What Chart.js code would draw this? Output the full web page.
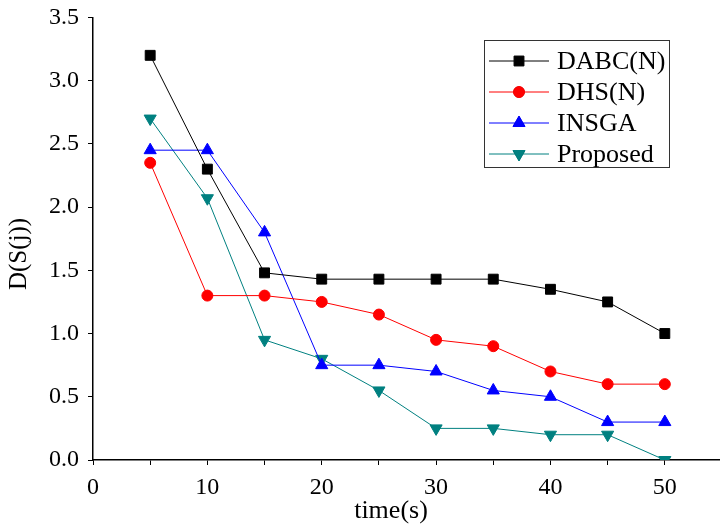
<!DOCTYPE html>
<html>
<head>
<meta charset="utf-8">
<script src="https://cdn.jsdelivr.net/npm/chart.js@4/dist/chart.umd.min.js"></script>
<style>
  html, body { margin: 0; padding: 0; background: #fff; overflow: hidden; }
  #wrap { width: 720px; height: 524px; overflow: hidden; }
  #myChart { display: block; margin-top: -6px; }
</style>
</head>
<body>
<div id="wrap"><canvas id="myChart" width="730" height="530"></canvas></div>
<script>
const times = [5, 10, 15, 20, 25, 30, 35, 40, 45, 50];
const dabc = [3.2, 2.3, 1.48, 1.43, 1.43, 1.43, 1.43, 1.35, 1.25, 1.0];
const dhs = [2.35, 1.3, 1.3, 1.25, 1.15, 0.95, 0.9, 0.7, 0.6, 0.6];
const insga = [2.45, 2.45, 1.8, 0.75, 0.75, 0.7, 0.55, 0.5, 0.3, 0.3];
const proposed = [2.7, 2.07, 0.95, 0.8, 0.55, 0.25, 0.25, 0.2, 0.2, 0.0];
const seriesNames = ['DABC(N)', 'DHS(N)', 'INSGA', 'Proposed'];
const xTitle = 'time(s)';
const yTitle = 'D(S(j))';

const font = 'Liberation Serif, Times New Roman, serif';
const shift = 6; // canvas is pulled up by this much

function pts(values) {
    return times.map((t, i) => ({ x: t, y: values[i] }));
}

function makeSet(label, values, color, style, radius, rotation) {
    return {
        label: label,
        data: pts(values),
        borderColor: color,
        backgroundColor: color,
        borderWidth: 1,
        pointStyle: style,
        pointRadius: radius,
        pointRotation: rotation || 0,
        pointBorderWidth: 1,
        tension: 0
    };
}

// legend box inside the plot + axis titles, as in the original figure
const boxLegend = {
    id: 'boxLegend',
    afterDraw(chart) {
        const ctx = chart.ctx;
        const x0 = 484, y0 = 40 + shift, w = 185, h = 127;
        ctx.save();
        ctx.fillStyle = '#fff';
        ctx.fillRect(x0, y0, w, h);
        ctx.strokeStyle = '#333';
        ctx.lineWidth = 1;
        ctx.strokeRect(x0 + 0.5, y0 + 0.5, w, h);
        ctx.font = '26px ' + font;
        ctx.textBaseline = 'middle';
        chart.data.datasets.forEach((ds, i) => {
            const y = y0 + 21 + i * 31;
            ctx.strokeStyle = ds.borderColor;
            ctx.beginPath();
            ctx.moveTo(x0 + 5, y);
            ctx.lineTo(x0 + 65, y);
            ctx.stroke();
            Chart.helpers.drawPoint(ctx, {
                pointStyle: ds.pointStyle,
                radius: ds.pointRadius,
                rotation: ds.pointRotation,
                borderWidth: 1
            }, x0 + 35, y);
            ctx.fillStyle = ds.borderColor;
            ctx.fill();
            ctx.fillStyle = '#000';
            ctx.fillText(ds.label, x0 + 73, y + 1);
        });

        ctx.fillStyle = '#000';
        ctx.font = '26px ' + font;
        ctx.textAlign = 'center';
        ctx.fillText(xTitle, 391, 511 + shift);
        ctx.translate(19, 254 + shift);
        ctx.rotate(-Math.PI / 2);
        ctx.font = '25px ' + font;
        ctx.fillText(yTitle, 0, 0);
        ctx.restore();
    }
};

const ctx = document.getElementById('myChart').getContext('2d');
new Chart(ctx, {
    type: 'line',
    data: {
        datasets: [
            makeSet(seriesNames[0], dabc, '#000000', 'rect', 7),
            makeSet(seriesNames[1], dhs, '#ff0000', 'circle', 5.5),
            makeSet(seriesNames[2], insga, '#0000ff', 'triangle', 7),
            makeSet(seriesNames[3], proposed, '#008080', 'triangle', 7, 180)
        ]
    },
    options: {
        responsive: false,
        animation: false,
        layout: { padding: { top: 0, right: 6, left: 0, bottom: 0 } },
        plugins: {
            legend: { display: false },
            tooltip: { enabled: false }
        },
        scales: {
            x: {
                type: 'linear',
                min: 0,
                max: 55,
                border: { display: true, color: '#000', width: 1.5 },
                grid: { drawOnChartArea: false, color: '#000', tickLength: 5, lineWidth: 1 },
                ticks: {
                    stepSize: 5,
                    color: '#000',
                    font: { family: font, size: 24 },
                    maxRotation: 0,
                    padding: 8,
                    callback: v => (v % 10 === 0 && v <= 50) ? String(v) : ''
                },
                afterFit: s => { s.height = 64; }
            },
            y: {
                min: 0,
                max: 3.5,
                border: { display: true, color: '#000', width: 1.5 },
                grid: { drawOnChartArea: false, color: '#000', tickLength: 5, lineWidth: 1 },
                ticks: {
                    stepSize: 0.25,
                    color: '#000',
                    font: { family: font, size: 24 },
                    padding: 9,
                    callback: v => (Math.abs(v * 2 - Math.round(v * 2)) < 1e-6) ? v.toFixed(1) : ''
                },
                afterFit: s => { s.width = 93; }
            }
        }
    },
    plugins: [boxLegend]
});
</script>
</body>
</html>
